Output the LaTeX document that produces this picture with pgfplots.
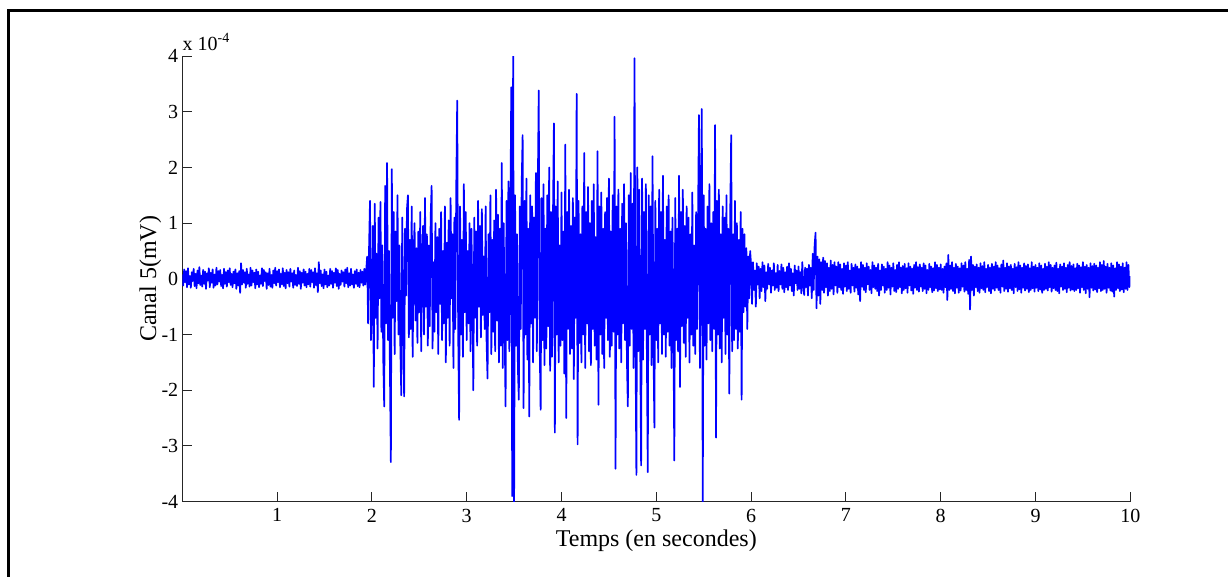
\documentclass[border=0pt]{standalone}
\usepackage{fontspec}
\setmainfont{Liberation Serif}
\usepackage{pgfplots}
\usepackage{pgfplotstable}
\pgfplotsset{compat=1.18}
% Canal 5, values in units of 1e-4 mV, sampled every 0.01 s from 0 to 10 s
\pgfplotstableread{
y
0.08
-0.12
0.17
-0.06
0.14
-0.15
0.19
-0.10
0.05
-0.16
0.12
-0.04
0.18
-0.13
0.09
-0.17
0.15
-0.08
0.21
-0.11
0.06
-0.14
0.16
-0.09
0.13
-0.18
0.10
-0.03
0.19
-0.15
0.11
-0.07
0.17
-0.16
0.08
-0.12
0.20
-0.10
0.14
-0.05
0.16
-0.13
0.07
-0.17
0.18
-0.09
0.12
-0.14
0.15
-0.06
0.19
-0.11
0.09
-0.15
0.13
-0.08
0.17
-0.18
0.10
-0.12
0.14
-0.25
0.28
-0.10
0.16
-0.07
0.12
-0.16
0.18
-0.09
0.08
-0.14
0.20
-0.12
0.15
-0.06
0.11
-0.17
0.17
-0.10
0.13
-0.15
0.06
-0.09
0.19
-0.13
0.16
-0.04
0.12
-0.18
0.10
-0.11
0.18
-0.14
0.07
-0.16
0.15
-0.08
0.20
-0.12
0.14
-0.06
0.17
-0.15
0.09
-0.10
0.19
-0.13
0.11
-0.17
0.16
-0.08
0.12
-0.14
0.18
-0.05
0.10
-0.16
0.15
-0.11
0.07
-0.13
0.20
-0.09
0.14
-0.18
0.11
-0.07
0.17
-0.12
0.13
-0.15
0.09
-0.10
0.18
-0.14
0.16
-0.06
0.12
-0.16
0.19
-0.11
0.10
-0.24
0.30
-0.08
0.15
-0.13
0.08
-0.17
0.17
-0.10
0.13
-0.15
0.06
-0.12
0.18
-0.09
0.14
-0.16
0.11
-0.07
0.19
-0.13
0.16
-0.18
0.09
-0.11
0.15
-0.05
0.12
-0.14
0.17
-0.08
0.20
-0.15
0.10
-0.12
0.18
-0.10
0.08
-0.16
0.14
-0.09
0.17
-0.13
0.11
-0.15
0.16
-0.07
0.13
-0.12
0.18
-0.10
0.15
0.40
-0.80
0.55
1.40
-1.10
-0.55
0.95
-1.94
1.35
-0.70
0.45
-1.25
1.10
-0.35
1.38
-0.95
0.60
-1.45
-2.29
1.67
-0.80
2.08
-1.10
0.50
-1.60
-3.29
1.97
-0.70
1.20
-1.35
0.85
-0.40
1.50
-1.00
0.60
-1.20
-2.09
1.10
-0.50
-2.11
0.90
-0.30
1.25
1.50
-1.05
0.70
-0.90
1.30
-1.40
0.40
1.00
-0.75
0.55
-1.15
0.85
-0.60
1.20
-1.30
0.35
0.95
-1.00
1.45
-0.50
0.80
-1.20
0.60
-0.85
1.10
1.67
-1.25
0.30
-0.95
1.00
-0.60
0.75
-1.35
0.90
-0.45
1.20
-1.10
0.50
-0.80
1.30
-1.50
0.65
-0.70
1.05
-1.20
1.45
-0.35
0.80
-1.60
1.10
-0.90
1.65
3.20
-0.90
-2.53
1.30
-1.00
0.70
-1.40
1.70
-0.60
1.20
-1.10
0.50
-0.80
1.00
-1.30
0.90
-0.40
-2.00
1.10
-0.70
0.85
-1.20
1.40
-0.50
0.95
-1.05
1.25
-0.65
0.40
-0.90
1.30
-1.15
-1.79
0.80
-0.60
1.50
-1.35
0.70
-0.95
1.05
-1.30
1.60
-0.75
1.15
-1.50
0.90
-1.20
2.08
-1.60
1.00
-0.80
-2.29
1.40
-1.10
1.75
-1.30
0.85
3.44
-3.90
4.05
-4.05
1.50
-1.20
0.80
-1.60
-2.17
1.30
-0.90
1.70
2.58
-2.32
1.40
-1.00
1.80
-1.45
0.90
-2.47
1.50
-0.80
1.30
-1.50
1.10
-0.70
1.90
-1.30
1.60
3.38
-1.20
-2.35
1.45
-1.10
1.70
-1.55
0.90
-1.25
1.50
-0.85
2.00
-1.65
1.20
-1.40
1.10
2.79
-2.76
1.30
-1.00
1.75
-1.50
0.60
-1.20
1.55
-1.10
0.85
-1.70
2.41
-2.50
1.20
-0.90
1.60
-1.35
0.95
-1.25
1.45
-1.80
1.10
-0.70
3.32
-2.97
1.40
-1.15
0.80
-1.50
1.30
-1.00
2.26
-1.60
1.20
-0.80
1.65
-1.30
1.00
-1.55
1.40
-0.90
1.70
-1.20
0.75
-1.45
2.29
-2.26
1.30
-1.00
1.55
-1.35
0.90
-1.60
1.20
-0.70
1.45
-1.10
1.80
-1.40
0.85
-1.20
1.50
-0.95
2.91
-3.41
1.30
-1.00
1.60
-1.25
0.90
-1.50
1.35
-0.80
1.70
-1.10
1.00
-1.45
-2.29
1.50
-1.20
1.90
-0.90
1.35
-1.60
3.96
-1.00
-3.52
2.00
-1.30
1.60
-1.10
-3.35
1.80
-1.45
1.20
-0.90
1.70
-1.20
-3.47
1.50
-1.00
1.30
-1.55
2.20
-1.20
-2.67
1.40
-1.10
0.90
-1.50
1.60
-0.80
1.20
-1.35
1.85
-1.00
0.70
-1.40
1.30
-0.95
1.50
-1.20
0.85
-1.60
1.10
-0.70
-3.26
1.45
-1.10
0.90
-1.30
1.85
-1.94
1.20
-0.85
1.60
-1.15
0.95
-1.40
1.30
-0.70
1.10
-1.50
0.80
-1.00
1.55
-1.20
0.60
-1.35
1.20
-0.90
1.00
2.94
-1.60
1.40
3.05
-4.05
1.50
-1.20
0.90
-1.45
1.30
-0.80
1.70
-1.10
1.00
-1.30
1.20
-0.90
2.76
-2.85
1.40
-1.00
1.60
-1.25
0.80
-1.50
1.30
-0.70
1.10
-1.35
1.50
-1.00
0.90
-2.06
1.20
2.58
-1.30
0.80
-1.10
1.40
-0.90
1.00
-1.25
0.70
-0.95
1.20
-2.17
0.90
-0.60
0.80
-0.50
0.55
-0.90
0.40
-0.35
0.50
0.25
-0.45
0.30
-0.20
0.15
-0.50
0.28
-0.10
0.22
-0.35
0.18
-0.22
0.30
-0.15
0.24
-0.40
0.12
-0.18
0.27
-0.10
0.20
-0.25
0.15
-0.12
0.28
-0.20
0.10
-0.16
0.25
-0.22
0.14
-0.10
0.26
-0.18
0.20
-0.24
0.12
-0.15
0.22
-0.20
0.28
-0.12
0.18
-0.22
0.10
-0.30
0.24
-0.08
0.15
-0.20
0.22
-0.18
0.12
-0.26
0.30
-0.10
-0.29
0.20
-0.15
0.18
-0.30
0.25
-0.12
0.20
-0.35
0.45
-0.20
0.60
0.83
-0.53
0.40
-0.30
0.35
-0.45
0.30
-0.20
0.38
-0.25
0.32
-0.15
0.28
-0.30
0.20
-0.22
0.33
-0.18
0.25
-0.28
0.30
-0.12
0.22
-0.25
0.30
-0.15
0.26
-0.20
0.18
-0.27
0.28
-0.14
0.24
-0.22
0.30
-0.18
0.15
-0.25
0.27
-0.12
0.20
-0.23
0.26
-0.16
0.22
-0.28
0.18
-0.40
0.30
-0.14
0.25
-0.20
0.20
-0.24
0.28
-0.10
0.22
-0.20
0.16
-0.26
0.30
-0.15
0.24
-0.18
0.20
-0.22
0.27
-0.30
0.15
-0.20
0.26
-0.12
0.22
-0.25
0.18
-0.20
0.30
-0.16
0.24
-0.28
0.20
-0.14
0.28
-0.22
0.16
-0.24
0.25
-0.18
0.30
-0.15
0.20
-0.26
0.23
-0.20
0.27
-0.17
0.19
-0.25
0.28
-0.12
0.22
-0.21
0.18
-0.27
0.25
-0.16
0.30
-0.20
0.21
-0.23
0.26
-0.14
0.20
-0.22
0.28
-0.18
0.24
-0.26
0.16
-0.20
0.27
-0.15
0.22
-0.24
0.19
-0.21
0.30
-0.17
0.25
-0.22
0.20
-0.19
0.26
-0.20
0.18
-0.25
0.22
-0.15
0.28
-0.38
0.43
-0.20
0.24
-0.18
0.30
-0.22
0.20
-0.26
0.27
-0.16
0.22
-0.25
0.19
-0.21
0.28
-0.14
0.24
-0.23
0.30
-0.20
0.18
-0.27
0.34
-0.55
0.40
-0.20
0.25
-0.30
0.22
-0.15
0.26
-0.22
0.20
-0.25
0.28
-0.17
0.23
-0.20
0.30
-0.24
0.18
-0.15
0.25
-0.22
0.20
-0.26
0.27
-0.18
0.22
-0.21
0.30
-0.16
0.24
-0.20
0.19
-0.25
0.26
-0.14
0.33
-0.22
0.20
-0.18
0.28
-0.23
0.22
-0.17
0.25
-0.20
0.18
-0.26
0.27
-0.15
0.21
-0.22
0.30
-0.19
0.24
-0.25
0.20
-0.16
0.28
-0.21
0.23
-0.18
0.26
-0.24
0.19
-0.20
0.30
-0.17
0.22
-0.23
0.25
-0.16
0.20
-0.22
0.28
-0.19
0.24
-0.25
0.18
-0.20
0.27
-0.18
0.22
-0.21
0.30
-0.15
0.25
-0.23
0.20
-0.17
0.24
-0.20
0.29
-0.22
0.18
-0.26
0.26
-0.14
0.22
-0.20
0.28
-0.18
0.20
-0.24
0.25
-0.16
0.30
-0.21
0.23
-0.19
0.26
-0.22
0.19
-0.20
0.27
-0.17
0.24
-0.25
0.21
-0.15
0.30
-0.20
0.22
-0.26
0.25
-0.18
0.20
-0.33
0.28
-0.16
0.23
-0.21
0.27
-0.19
0.24
-0.24
0.20
-0.17
0.30
-0.22
0.25
-0.20
0.32
-0.18
0.22
-0.25
0.27
-0.16
0.20
-0.21
0.28
-0.23
0.24
-0.32
0.19
-0.20
0.30
-0.17
0.26
-0.22
0.22
-0.19
0.28
-0.24
0.20
-0.18
0.30
-0.20
0.25
-0.15
0.05
}\sig
\begin{document}
\begin{tikzpicture}
\useasboundingbox (0,0) rectangle (614pt,288.5pt);
\draw[line width=1.3pt] (4.15pt,-5pt) -- (4.15pt,283.15pt) -- (620pt,283.15pt);
\begin{axis}[
  at={(91.15pt,37.65pt)}, anchor=south west,
  scale only axis, width=474pt, height=222.85pt,
  xmin=0, xmax=10, ymin=-4, ymax=4,
  clip mode=individual,
  axis x line*=bottom, axis y line*=left,
  axis line style={-, line width=0.5pt, black!85},
  xtick={1,...,10}, ytick={-4,...,4},
  tick align=inside, major tick length=5pt,
  tick style={black!85, line width=0.5pt},
  minor tick num=0,
  scaled y ticks=false,
  /pgf/number format/assume math mode=true,
  ticklabel style={font=\fontsize{10}{12}\selectfont},
  yticklabel style={xshift=1.5pt},
  xlabel={Temps (en secondes)}, ylabel={Canal 5(mV)},
  label style={font=\fontsize{12}{14}\selectfont},
  xlabel style={at={([yshift=-22.65pt]axis description cs:0.5,0)}, anchor=base},
  ylabel style={at={([xshift=-13.15pt]axis description cs:0,0.5)}, anchor=base},
]
\addplot[color={rgb,255:red,0;green,0;blue,255}, line width=0.85pt, line join=round] table[x expr=\coordindex*0.01, y=y] {\sig};
\node[anchor=base west, yshift=3pt, inner sep=0pt, font=\fontsize{10}{12}\selectfont] at (rel axis cs:0,1) {x 10\textsuperscript{-4}};
\end{axis}
\end{tikzpicture}
\end{document}
